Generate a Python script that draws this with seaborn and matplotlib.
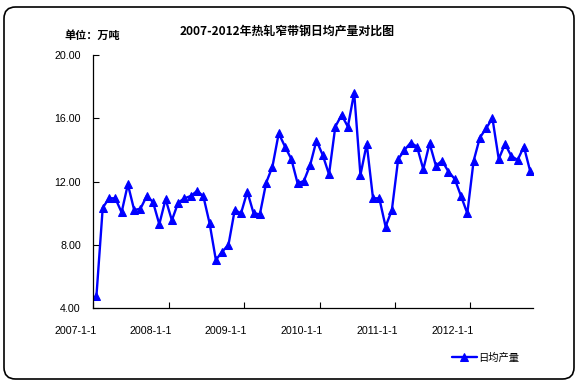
import matplotlib
matplotlib.use("Agg")
import matplotlib.pyplot as plt
import matplotlib.transforms as mtrans
import seaborn as sns
import numpy as np
import pandas as pd
from matplotlib.patches import FancyBboxPatch


# data (monthly, 2007-01 .. 2012-10)
daily_output = [4.78, 10.35, 10.95, 10.95, 10.06, 11.83, 10.21, 10.29, 11.09, 10.71, 9.31, 10.89,
                9.56, 10.67, 10.95, 11.09, 11.41, 11.09, 9.37, 7.05, 7.58, 8.00, 10.21, 10.00,
                11.37, 10.00, 9.94, 11.93, 12.95, 15.05, 14.21, 13.43, 11.90, 12.04, 13.05, 14.59,
                13.68, 12.46, 15.47, 16.21, 15.47, 17.62, 12.42, 14.38, 10.95, 10.95, 9.16, 10.21,
                13.41, 14.00, 14.46, 14.21, 12.78, 14.42, 13.01, 13.32, 12.63, 12.17, 11.09, 10.00,
                13.30, 14.78, 15.37, 16.00, 13.43, 14.38, 13.62, 13.37, 14.21, 12.67]
year_labels = ["2007-1-1", "2008-1-1", "2009-1-1", "2010-1-1", "2011-1-1", "2012-1-1"]
y_ticks = [4, 8, 12, 16, 20]
series_name = "日均产量"
title = "2007-2012年热轧窄带钢日均产量对比图"
unit = "单位：万吨"

df = pd.DataFrame({"month": np.arange(len(daily_output)), "value": daily_output})

sns.set_style("white")
plt.rcParams['font.family'] = ['Liberation Sans', 'Noto Sans CJK SC', 'DejaVu Sans']
plt.rcParams['text.color'] = 'black'
plt.rcParams['xtick.color'] = 'black'
plt.rcParams['ytick.color'] = 'black'
cjk = ['Noto Sans CJK SC', 'DejaVu Sans']

fig = plt.figure(figsize=(5.77, 3.84), dpi=100)
ax = fig.add_axes([93.3 / 577, 1 - 308.3 / 384, 440 / 577, 253.3 / 384])

sns.lineplot(data=df, x="month", y="value", ax=ax, color="#0000ff", linewidth=1.7,
             marker="^", markersize=5.8, markeredgecolor="#0000ff", label=series_name)

# category axis: ticks between categories, one per year
ax.set_xlim(-0.5, len(daily_output) - 0.5)
ax.set_xticks([i * 12 - 0.5 for i in range(len(year_labels))])
ax.set_xticklabels(year_labels, ha="right", fontsize=7.7)
ax.set_ylim(4, 20)
ax.set_yticks(y_ticks)
ax.set_yticklabels([f"{v:.2f}" for v in y_ticks], fontsize=7.7)
ax.tick_params(axis="x", direction="in", length=4, width=0.8, pad=13, bottom=True)
ax.tick_params(axis="y", direction="in", length=4, width=0.8, pad=9, left=True)
ax.set_xlabel("")
ax.set_ylabel("")
for side in ["top", "right"]:
    ax.spines[side].set_visible(False)
for side in ["left", "bottom"]:
    ax.spines[side].set_color("black")
    ax.spines[side].set_linewidth(0.9)

# nudge x labels so their right edge sits just past the tick
offset = mtrans.ScaledTranslation(3 / 100, 0, fig.dpi_scale_trans)
for lab in ax.get_xticklabels():
    lab.set_transform(lab.get_transform() + offset)

ax.legend(loc="center left", bbox_to_anchor=(452 / 577, 1 - 357.8 / 384),
          bbox_transform=fig.transFigure, frameon=False, borderpad=0,
          borderaxespad=0, handlelength=2.4, handletextpad=0.15,
          prop={"family": cjk, "size": 7.4})

fig.text(287 / 577, 1 - 31.5 / 384, title, ha="center", va="center",
         fontsize=8.6, fontweight="bold", family=cjk)
fig.text(92 / 577, 1 - 35.7 / 384, unit, ha="center", va="center",
         fontsize=8, fontweight="bold", family=cjk)

# rounded frame around the whole chart
frame = FancyBboxPatch((4 / 577, 5 / 384), 570 / 577, 372 / 384,
                       boxstyle="round,pad=0,rounding_size=0.02",
                       transform=fig.transFigure, fill=False,
                       edgecolor="black", linewidth=1.2, mutation_aspect=577 / 384)
fig.patches.append(frame)

fig.savefig("out.png", dpi=100)
